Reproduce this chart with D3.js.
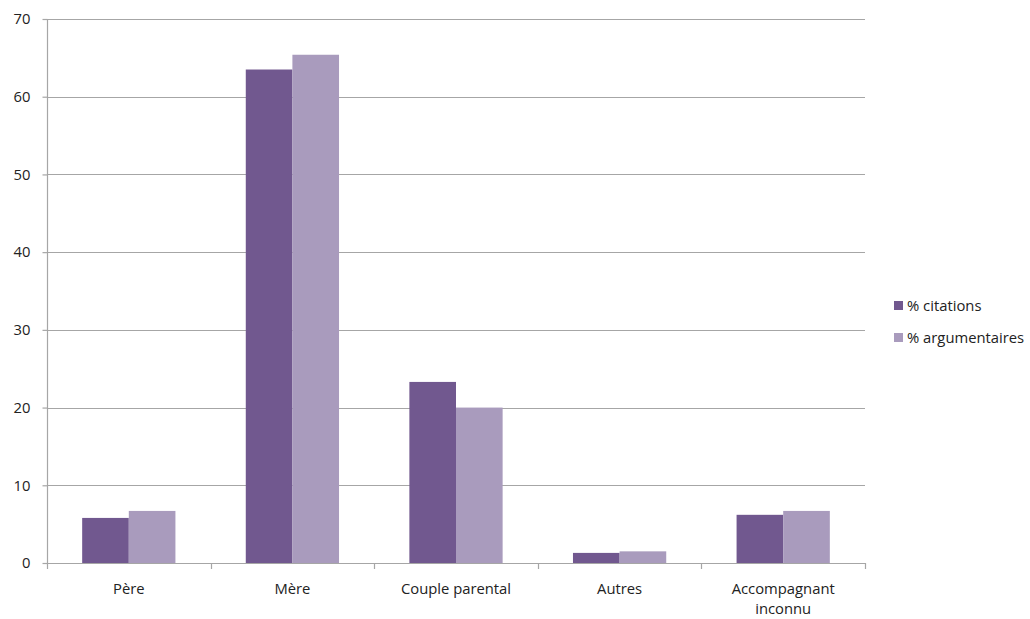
<!DOCTYPE html>
<html><head><meta charset="utf-8">
<script src="https://cdn.jsdelivr.net/npm/d3@7"></script>
<style>body{margin:0;background:#fff}svg{display:block}text{font-family:"Open Sans",sans-serif;fill:#222}</style>
</head><body><svg id="c" width="1030" height="619"></svg>
<script>
const categories = [["Père"],["Mère"],["Couple parental"],["Autres"],["Accompagnant","inconnu"]];
const seriesNames = ["% citations","% argumentaires"];
const citations = [5.8, 63.5, 23.3, 1.3, 6.2];
const argumentaires = [6.7, 65.4, 20.0, 1.5, 6.7];
const yTicks = [0,10,20,30,40,50,60,70];
const colors = ["#71588f","#a99bbd"];
const FS = "14.8px";

const svg = d3.select("#c");
const L=47, R=865, T=19, B=563;
const y = d3.scaleLinear().domain([0,70]).range([B,T]);
const x0 = d3.scaleBand().domain(d3.range(categories.length)).range([L,R]).padding(0);
const bw = x0.bandwidth();
const x1 = d3.scaleBand().domain([0,1]).range([bw*0.215, bw*0.785]).padding(0);
const series=[citations, argumentaires];

svg.append("g").selectAll("line").data(yTicks).join("line")
  .attr("x1",L).attr("x2",R).attr("y1",d=>Math.round(y(d))+0.5).attr("y2",d=>Math.round(y(d))+0.5)
  .attr("stroke","#a6a6a6").attr("stroke-width",1.2);

categories.forEach((c,i)=>{
  series.forEach((s,j)=>{
    svg.append("rect").attr("x",x0(i)+x1(j)).attr("width",x1.bandwidth())
      .attr("y",y(s[i])).attr("height",y(0)-y(s[i])).attr("fill",colors[j]);
  });
});

const ya = svg.append("g").attr("transform",`translate(${L+0.5},0)`)
  .call(d3.axisLeft(y).tickValues(yTicks).tickSize(5).tickPadding(12));
ya.select(".domain").attr("stroke","#a6a6a6").attr("stroke-width",1.2).attr("d",`M0,${T}V${B}`);
ya.selectAll(".tick line").attr("stroke","#a6a6a6").attr("stroke-width",1.2);
ya.selectAll(".tick text").attr("font-size",FS).attr("fill","#222").style("font-family","'Open Sans',sans-serif");

const xg = svg.append("g");
xg.append("line").attr("x1",L).attr("x2",R).attr("y1",B+0.5).attr("y2",B+0.5).attr("stroke","#a6a6a6").attr("stroke-width",1.2);
const bounds = d3.range(categories.length+1).map(i=> i<categories.length? x0(i): R);
xg.selectAll("line.t").data(bounds).join("line").attr("class","t")
  .attr("x1",d=>Math.round(d)+0.5).attr("x2",d=>Math.round(d)+0.5).attr("y1",B).attr("y2",B+6)
  .attr("stroke","#a6a6a6").attr("stroke-width",1.2);
categories.forEach((c,i)=>{
  const t = xg.append("text").attr("x",x0(i)+bw/2).attr("y",594).attr("text-anchor","middle").attr("font-size",FS);
  c.forEach((ln,k)=> t.append("tspan").attr("x",x0(i)+bw/2).attr("dy",k?19.5:0).text(ln));
});

seriesNames.forEach((n,j)=>{
  const gy = 301 + j*32;
  svg.append("rect").attr("x",894).attr("y",gy).attr("width",9).attr("height",9).attr("fill",colors[j]);
  svg.append("text").attr("x",907).attr("y",gy+10).attr("font-size",FS).text(n);
});
</script></body></html>
